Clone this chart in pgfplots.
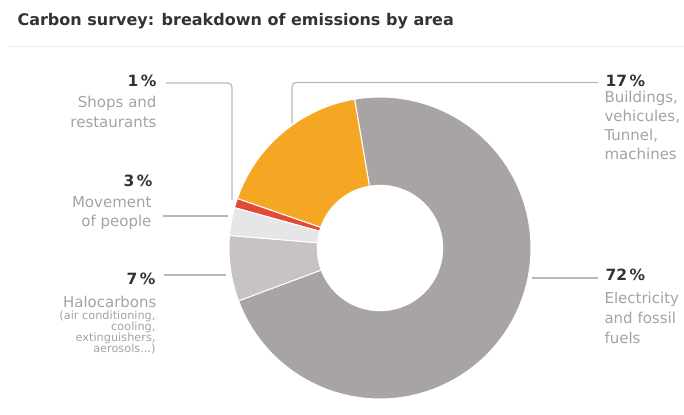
\documentclass[border=0pt]{standalone}
\usepackage{pgfplots}
\pgfplotsset{compat=1.18}
\usepackage{pgfplotstable}
\usepackage{fontspec}
\setmainfont{DejaVu Sans}

\definecolor{cGrey}{HTML}{A9A4A4}
\definecolor{cOrange}{HTML}{F5A623}
\definecolor{cRed}{HTML}{E24A38}
\definecolor{cLight}{HTML}{E6E6E6}
\definecolor{cHalo}{HTML}{C8C3C3}
\definecolor{cText}{HTML}{333333}
\definecolor{cDesc}{HTML}{A3A3A3}
\definecolor{cLine}{HTML}{B8B8B8}

% shares in percent, in counterclockwise order from the lower left
\pgfplotstableread{
name share
Electricity 72
Buildings 17
Shops 1
Movement 3
Halocarbons 7
}\shares

\pgfmathsetmacro\aStart{200.5}
\pgfplotstablegetelem{0}{share}\of\shares \pgfmathsetmacro\aA{\aStart+3.6*\pgfplotsretval}
\pgfplotstablegetelem{1}{share}\of\shares \pgfmathsetmacro\aB{\aA+3.6*\pgfplotsretval}
\pgfplotstablegetelem{2}{share}\of\shares \pgfmathsetmacro\aC{\aB+3.6*\pgfplotsretval}
\pgfplotstablegetelem{3}{share}\of\shares \pgfmathsetmacro\aD{\aC+3.6*\pgfplotsretval}
\pgfplotstablegetelem{4}{share}\of\shares \pgfmathsetmacro\aE{\aD+3.6*\pgfplotsretval}

\newcommand\donutwedge[3]{%
  \addplot[fill=#3, draw=white, line width=1bp, line join=round, domain=#1:#2, samples=90]
    ({380+151*cos(x)},{248-151*sin(x)}) -- (axis cs:380,248) -- cycle;
}

\begin{document}
\begin{tikzpicture}
\useasboundingbox (0,0) rectangle (684bp,415bp);
\begin{axis}[at={(0,0)}, anchor=south west, x=1bp, y=1bp,
  xmin=0, xmax=684, ymin=0, ymax=415, y dir=reverse,
  hide axis, clip=false,
  every node/.append style={inner sep=0pt, outer sep=0pt}]
\donutwedge{\aStart}{\aA}{cGrey}
\donutwedge{\aA}{\aB}{cOrange}
\donutwedge{\aB}{\aC}{cRed}
\donutwedge{\aC}{\aD}{cLight}
\donutwedge{\aD}{\aE}{cHalo}
% hole of the ring
\addplot[fill=white, draw=white, domain=0:360, samples=120]
  ({380+63*cos(x)},{248-63*sin(x)}) -- cycle;

% title and rule
\node[anchor=base west, text=cText, font=\bfseries\fontsize{16bp}{16bp}\selectfont] at (14,25) {Carbon survey: breakdown of emissions by area};
\draw[black!7, line width=1bp] (8,46) -- (684,46);

% leader lines
\draw[cLine, line width=1.2bp, rounded corners=4bp] (166,83) -- (232,83) -- (232,200);
\draw[cLine, line width=1.2bp] (163,216) -- (228,216);
\draw[cLine, line width=1.2bp] (164,275) -- (226,275);
\draw[cLine, line width=1.2bp, rounded corners=4bp] (292,123) -- (292,82.5) -- (598,82.5);
\draw[cLine, line width=1.2bp] (532,278) -- (598,278);

% labels
\tikzset{pct/.style={text=cText, font=\bfseries\fontsize{15.5bp}{15.5bp}\selectfont},
         dsc/.style={text=cDesc, font=\fontsize{15bp}{15bp}\selectfont},
         sml/.style={text=cDesc, font=\fontsize{11.3bp}{11.3bp}\selectfont}}
\node[pct, anchor=base east] at (160,86.5) {1\,\%};
\node[dsc, anchor=base east] at (160,107) {Shops and};
\node[dsc, anchor=base east] at (160,127) {restaurants};
\node[pct, anchor=base east] at (156,186.5) {3\,\%};
\node[dsc, anchor=base east] at (155,207) {Movement};
\node[dsc, anchor=base east] at (155,226.5) {of people};
\node[pct, anchor=base east] at (159,284.5) {7\,\%};
\node[dsc, anchor=base east] at (160,307) {Halocarbons};
\node[sml, anchor=base east] at (159,319.5) {(air conditioning,};
\node[sml, anchor=base east] at (159,330.5) {cooling,};
\node[sml, anchor=base east] at (159,341.5) {extinguishers,};
\node[sml, anchor=base east] at (159,352.5) {aerosols...)};

\node[pct, anchor=base west] at (602,86.5) {17\,\%};
\node[dsc, anchor=base west] at (601,102.5) {Buildings,};
\node[dsc, anchor=base west] at (601,121.5) {vehicules,};
\node[dsc, anchor=base west] at (601,140.5) {Tunnel,};
\node[dsc, anchor=base west] at (601,159.5) {machines};
\node[pct, anchor=base west] at (602,280.5) {72\,\%};
\node[dsc, anchor=base west] at (601,303) {Electricity};
\node[dsc, anchor=base west] at (601,323) {and fossil};
\node[dsc, anchor=base west] at (601,343) {fuels};
\end{axis}
\end{tikzpicture}
\end{document}
